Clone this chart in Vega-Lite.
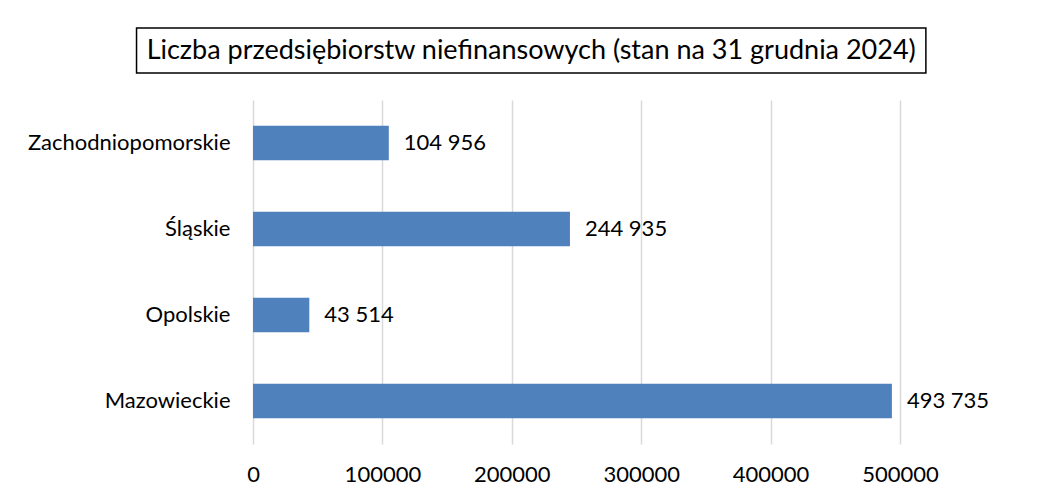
{
  "$schema": "https://vega.github.io/schema/vega-lite/v6.json",
  "background": "white",
  "padding": {"left": 27, "top": 27, "right": 10, "bottom": 10},
  "spacing": 26,
  "config": {
    "locale": {"number": {"decimal": ",", "thousands": " ", "grouping": [3], "currency": ["", " zł"]}},
    "view": {"stroke": null},
    "font": "Lato"
  },
  "resolve": {"scale": {"x": "shared"}},
  "vconcat": [
    {
      "width": 647,
      "height": 45,
      "data": {"values": [{"title": "Liczba przedsiębiorstw niefinansowych (stan na 31 grudnia 2024)"}]},
      "layer": [
        {
          "mark": {"type": "rect", "fill": "white", "stroke": "black", "strokeWidth": 1.5},
          "encoding": {
            "x": {"datum": -90000, "type": "quantitative", "scale": {"domain": [0, 500000], "nice": false}, "axis": null},
            "x2": {"datum": 520000}
          }
        },
        {
          "mark": {"type": "text", "fontSize": 27, "font": "Lato", "color": "black"},
          "encoding": {
            "x": {"datum": 215000, "type": "quantitative", "axis": null},
            "text": {"field": "title"}
          }
        }
      ]
    },
    {
      "width": 647,
      "height": 344,
      "data": {"values": [
        {"region": "Zachodniopomorskie", "count": 104956},
        {"region": "Śląskie", "count": 244935},
        {"region": "Opolskie", "count": 43514},
        {"region": "Mazowieckie", "count": 493735}
      ]},
      "encoding": {
        "y": {
          "field": "region", "type": "nominal",
          "sort": ["Zachodniopomorskie", "Śląskie", "Opolskie", "Mazowieckie"],
          "scale": {"paddingInner": 0.6, "paddingOuter": 0.3},
          "axis": {"title": null, "ticks": false, "domain": false, "labelFontSize": 22, "labelPadding": 23, "labelLimit": 0, "labelColor": "black", "labelFont": "Lato"}
        },
        "x": {
          "field": "count", "type": "quantitative",
          "scale": {"domain": [0, 500000], "nice": false},
          "axis": {"title": null, "values": [0, 100000, 200000, 300000, 400000, 500000], "format": "d", "grid": true, "gridColor": "#d9d9d9", "gridWidth": 1.5, "domain": false, "ticks": false, "labelFlush": false, "labelOverlap": false, "labelFontSize": 22, "labelPadding": 20, "labelColor": "black", "labelFont": "Lato"}
        }
      },
      "layer": [
        {"mark": {"type": "bar", "color": "#4F81BD"}},
        {
          "mark": {"type": "text", "align": "left", "dx": 15, "fontSize": 22, "font": "Lato", "color": "black"},
          "encoding": {"text": {"field": "count", "type": "quantitative", "format": ",d"}}
        }
      ]
    }
  ]
}
